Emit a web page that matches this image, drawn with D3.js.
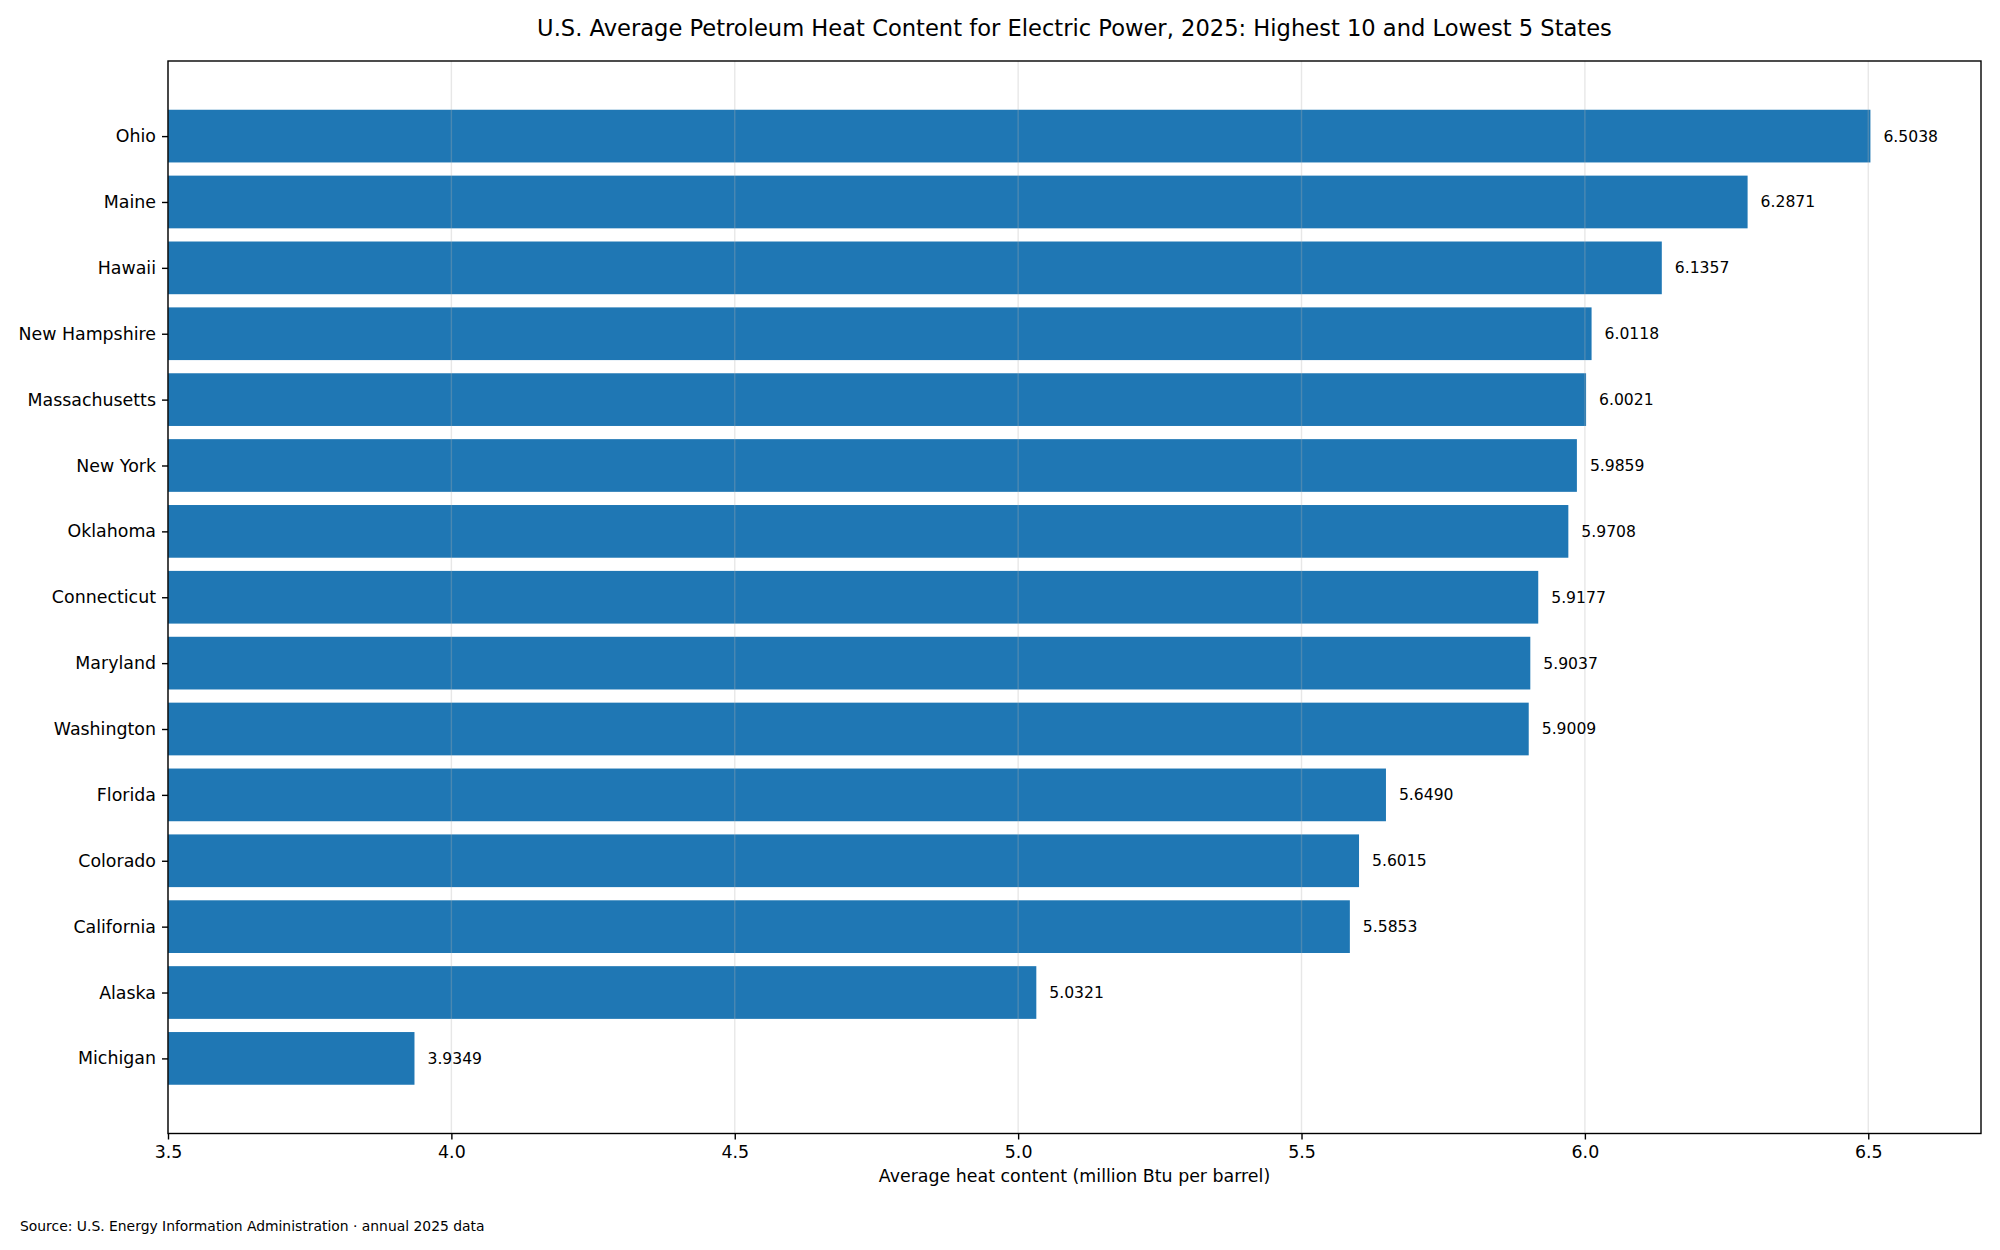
<!DOCTYPE html>
<html>
<head>
<meta charset="utf-8">
<script src="https://cdn.jsdelivr.net/npm/d3@7"></script>
<style>
  html, body { margin: 0; padding: 0; background: #fff; }
  svg { display: block; font-family: 'DejaVu Sans', sans-serif; }
</style>
</head>
<body>
<div id="chart-container"></div>
<script>
// ==== data ====
const states = [
  'Ohio', 'Maine', 'Hawaii', 'New Hampshire', 'Massachusetts',
  'New York', 'Oklahoma', 'Connecticut', 'Maryland', 'Washington',
  'Florida', 'Colorado', 'California', 'Alaska', 'Michigan',
]
const heatContent = [
  6.5038, 6.2871, 6.1357, 6.0118, 6.0021,
  5.9859, 5.9708, 5.9177, 5.9037, 5.9009,
  5.6490, 5.6015, 5.5853, 5.0321, 3.9349,
]
const xTicks = [3.5, 4.0, 4.5, 5.0, 5.5, 6.0, 6.5]

const titleText =
  'U.S. Average Petroleum Heat Content for Electric Power, 2025: Highest 10 and Lowest 5 States'
const xLabelText = 'Average heat content (million Btu per barrel)'
const sourceText = 'Source: U.S. Energy Information Administration · annual 2025 data'

;(function () {
  const W = 2000
  const H = 1250
  // axes box (figure px)
  const left = 168
  const right = 1981
  const top = 61
  const bottom = 1133.5

  const svg = d3
    .select('#chart-container')
    .append('svg')
    .attr('width', W)
    .attr('height', H)

  const rows = states.map((s, i) => ({ state: s, value: heatContent[i], idx: i }))

  // x 轴: 3.5 到 最大值*1.03
  const xMax = d3.max(heatContent) * 1.03
  const x = d3.scaleLinear().domain([3.5, xMax]).range([left, right])

  // y: 线性索引，带 matplotlib 默认 5% 边距
  const barH = 0.8
  const pad = (states.length - 1 + barH) * 0.05
  const y = d3
    .scaleLinear()
    .domain([-barH / 2 - pad, states.length - 1 + barH / 2 + pad])
    .range([top, bottom])

  // bars
  svg
    .append('g')
    .selectAll('rect')
    .data(rows)
    .join('rect')
    .attr('x', x(3.5))
    .attr('y', (d) => y(d.idx - barH / 2))
    .attr('width', (d) => x(d.value) - x(3.5))
    .attr('height', (d) => y(d.idx + barH / 2) - y(d.idx - barH / 2))
    .attr('fill', '#1f77b4')

  // grid (drawn above the bars like matplotlib)
  svg
    .append('g')
    .selectAll('line')
    .data(xTicks)
    .join('line')
    .attr('x1', (d) => x(d))
    .attr('x2', (d) => x(d))
    .attr('y1', top)
    .attr('y2', bottom)
    .attr('stroke', '#b0b0b0')
    .attr('stroke-opacity', 0.3)
    .attr('stroke-width', 1.4)

  // value labels
  svg
    .append('g')
    .selectAll('text')
    .data(rows)
    .join('text')
    .attr('x', (d) => x(d.value) + 13)
    .attr('y', (d) => y(d.idx))
    .attr('dy', '0.35em')
    .attr('font-size', 15.6)
    .attr('fill', '#000')
    .text((d) => d.value.toFixed(4))

  // x axis
  const xAxis = d3
    .axisBottom(x)
    .tickValues(xTicks)
    .tickFormat(d3.format('.1f'))
    .tickSize(6)
    .tickPadding(6)
  const gx = svg
    .append('g')
    .attr('transform', `translate(0,${bottom})`)
    .call(xAxis)
  gx.select('.domain').remove()
  gx.selectAll('.tick line').attr('stroke', '#000').attr('stroke-width', 1.4)
  gx.selectAll('.tick text')
    .attr('font-size', 17.4)
    .attr('font-family', 'DejaVu Sans')
    .attr('fill', '#000')

  // y axis (category labels at integer positions)
  const yAxis = d3
    .axisLeft(y)
    .tickValues(d3.range(states.length))
    .tickFormat((i) => states[i])
    .tickSize(6)
    .tickPadding(6)
  const gy = svg
    .append('g')
    .attr('transform', `translate(${left},0)`)
    .call(yAxis)
  gy.select('.domain').remove()
  gy.selectAll('.tick line').attr('stroke', '#000').attr('stroke-width', 1.4)
  gy.selectAll('.tick text')
    .attr('font-size', 17.4)
    .attr('font-family', 'DejaVu Sans')
    .attr('fill', '#000')

  // spines
  svg
    .append('rect')
    .attr('x', left)
    .attr('y', top)
    .attr('width', right - left)
    .attr('height', bottom - top)
    .attr('fill', 'none')
    .attr('stroke', '#000')
    .attr('stroke-width', 1.4)

  // title
  svg
    .append('text')
    .attr('x', (left + right) / 2)
    .attr('y', 36)
    .attr('text-anchor', 'middle')
    .attr('font-size', 22.6)
    .attr('fill', '#000')
    .text(titleText)

  // x label
  svg
    .append('text')
    .attr('x', (left + right) / 2)
    .attr('y', 1182)
    .attr('text-anchor', 'middle')
    .attr('font-size', 17.4)
    .attr('fill', '#000')
    .text(xLabelText)

  // source note
  svg
    .append('text')
    .attr('x', 20)
    .attr('y', 1231)
    .attr('font-size', 13.9)
    .attr('fill', '#000')
    .text(sourceText)
})()
</script>
</body>
</html>
